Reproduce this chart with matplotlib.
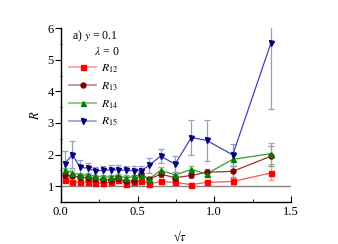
import matplotlib
matplotlib.use("Agg")
import matplotlib.pyplot as plt
from matplotlib.lines import Line2D
from matplotlib.ticker import MultipleLocator

plt.rcParams['font.family'] = ['Liberation Serif', 'DejaVu Serif']
plt.rcParams['mathtext.fontset'] = 'stix'

x = [0.025, 0.075, 0.125, 0.175, 0.225, 0.275, 0.325, 0.375, 0.425, 0.475,
     0.525, 0.575, 0.65, 0.745, 0.85, 0.95, 1.12, 1.37]

r12 = [1.21, 1.13, 1.13, 1.13, 1.11, 1.09, 1.13, 1.21, 1.08, 1.12,
       1.18, 1.07, 1.15, 1.12, 1.05, 1.12, 1.15, 1.42]
r12_err = [0.06, 0.05, 0.05, 0.05, 0.05, 0.05, 0.05, 0.06, 0.05, 0.05,
           0.06, 0.05, 0.06, 0.07, 0.06, 0.07, 0.12, 0.23]

r13 = [1.36, 1.31, 1.29, 1.27, 1.23, 1.19, 1.21, 1.26, 1.15, 1.17,
       1.38, 1.22, 1.38, 1.27, 1.34, 1.44, 1.47, 1.95]
r13_err = [0.07, 0.06, 0.06, 0.06, 0.06, 0.06, 0.06, 0.07, 0.06, 0.06,
           0.07, 0.06, 0.08, 0.08, 0.09, 0.12, 0.18, 0.32]

r14 = [1.50, 1.43, 1.36, 1.35, 1.31, 1.28, 1.30, 1.33, 1.26, 1.31,
       1.36, 1.23, 1.50, 1.36, 1.53, 1.39, 1.85, 2.03]
r14_err = [0.08, 0.07, 0.07, 0.07, 0.06, 0.06, 0.06, 0.07, 0.06, 0.06,
           0.07, 0.07, 0.10, 0.09, 0.12, 0.10, 0.22, 0.33]

r15 = [1.70, 2.00, 1.60, 1.57, 1.48, 1.50, 1.52, 1.52, 1.50, 1.49,
       1.49, 1.66, 1.95, 1.70, 2.54, 2.45, 1.99, 5.54]
r15_err = [0.40, 0.43, 0.24, 0.17, 0.13, 0.14, 0.15, 0.15, 0.14, 0.14,
           0.15, 0.24, 0.22, 0.24, 0.55, 0.64, 0.35, 2.10]

labels = [r'$R_{12}$', r'$R_{13}$', r'$R_{14}$', r'$R_{15}$']
colors = ['#ff0000', '#800000', '#008000', '#000080']
line_colors = ['#ff5555', '#993333', '#339933', '#4444aa']
err_colors = ['#ff9999', '#c08080', '#80c080', '#9999cc']
markers = ['s', 'o', '^', 'v']
series = [(r12, r12_err), (r13, r13_err), (r14, r14_err), (r15, r15_err)]

fig = plt.figure(figsize=(3.38, 2.44), dpi=100)
ax = fig.add_axes([0.180, 0.172, 0.681, 0.713])

ax.plot([0, 1.5], [1, 1], color='#888888', lw=1.0, zorder=1)

handles = []
for (vals, errs), lab, c, lc, ec, m in zip(series, labels, colors, line_colors,
                                          err_colors, markers):
    ax.errorbar(x, vals, yerr=errs, fmt='none', ecolor=ec, elinewidth=0.9,
                capsize=2.5, capthick=0.9, zorder=2)
    ax.plot(x, vals, color=lc, lw=0.9, zorder=3)
    ax.plot(x, vals, ls='none', marker=m, color=c, ms=3.6, mec=c, zorder=4)
    handles.append(Line2D([0], [0], color=ec, lw=1.2,
                          marker=m, ms=3.6, mfc=c, mec=c))

ax.set_xlim(0, 1.5)
ax.set_ylim(0.5, 6)
ax.xaxis.set_minor_locator(MultipleLocator(0.25))
ax.yaxis.set_minor_locator(MultipleLocator(0.5))
ax.set_xticks([0, 0.5, 1.0, 1.5])
ax.set_xticklabels(['0.0', '0.5', '1.0', '1.5'])
ax.set_yticks([1, 2, 3, 4, 5, 6])
ax.tick_params(axis='x', which='major', direction='in', length=4, labelsize=9, pad=3)
ax.tick_params(axis='x', which='minor', direction='in', length=2)
ax.tick_params(axis='y', which='major', direction='out', length=4, labelsize=9, pad=1)
ax.tick_params(axis='y', which='minor', direction='inout', length=2)

for s in ['top', 'right']:
    ax.spines[s].set_visible(False)
for s in ['left', 'bottom']:
    ax.spines[s].set_linewidth(1.0)

fig.text(0.532, 0.0, '√' + r'$\tau$', fontsize=9, ha='center', va='bottom')
ax.set_ylabel(r'$R$', fontsize=9, labelpad=4)

ax.text(0.047, 0.995, r'a) $y$ = 0.1', transform=ax.transAxes, fontsize=8.5,
        va='top', ha='left')
ax.text(0.145, 0.895, r'$\lambda$ = 0', transform=ax.transAxes, fontsize=8.5,
        va='top', ha='left')

leg = ax.legend(handles, labels, loc='upper left', bbox_to_anchor=(0.0, 0.85),
                frameon=False, fontsize=8.5, handlelength=2.3, handletextpad=0.4,
                labelspacing=0.45, borderaxespad=0.3)

fig.savefig('out.png', dpi=100)
